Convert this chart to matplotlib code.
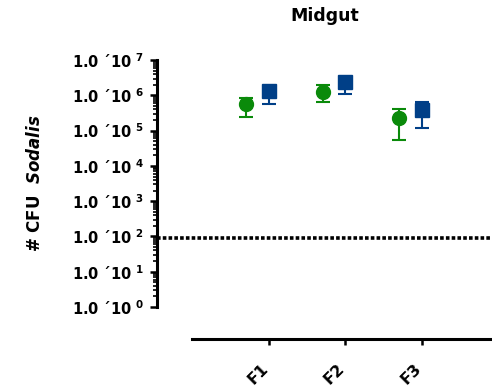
import matplotlib.pyplot as plt
import matplotlib.transforms as mtransforms
import numpy as np

# data
categories = ["F1", "F2", "F3"]
green_mean = [5.6e5, 1.26e6, 2.3e5]
green_low = [2.5e5, 6.5e5, 5.5e4]
green_high = [8.5e5, 1.95e6, 4.2e5]
blue_mean = [1.35e6, 2.35e6, 3.8e5]
blue_low = [5.6e5, 1.1e6, 1.17e5]
blue_high = [1.55e6, 2.6e6, 6.3e5]
detection_limit = 88

plt.rcParams['font.family'] = ['DejaVu Sans']
plt.rcParams['font.weight'] = 'bold'
plt.rcParams['mathtext.fontset'] = 'custom'
plt.rcParams['mathtext.rm'] = 'DejaVu Sans:bold'
plt.rcParams['mathtext.it'] = 'DejaVu Sans:italic:bold'
plt.rcParams['mathtext.bf'] = 'DejaVu Sans:bold'

fig = plt.figure(figsize=(4.92, 3.87), dpi=100)
ax = fig.add_axes([0.319, 0.2067, 0.681, 0.638])

# spines first: set_position resets the ticks
ax.spines['top'].set_visible(False)
ax.spines['right'].set_visible(False)
ax.spines['left'].set_linewidth(2.2)
ax.spines['bottom'].set_linewidth(2.2)
ax.spines['bottom'].set_position(('outward', 23))

x = np.arange(1, len(categories) + 1)
gm = np.array(green_mean)
bm = np.array(blue_mean)
gerr = [gm - np.array(green_low), np.array(green_high) - gm]
berr = [bm - np.array(blue_low), np.array(blue_high) - bm]

ax.errorbar(x - 0.3, gm, yerr=gerr, fmt='o', color='#0a8a0a', ms=10,
            capsize=5, elinewidth=1.5, capthick=1.5)
ax.errorbar(x, bm, yerr=berr, fmt='s', color='#003f87', ms=10,
            capsize=5, elinewidth=1.5, capthick=1.5)

ax.axhline(detection_limit, color='black', lw=2.6, ls=(0, (1, 0.6)))

ax.set_yscale('log')
ax.set_ylim(1, 1e7)
ax.set_xlim(-0.464, 3.915)
ax.spines['bottom'].set_bounds(0, 3.915)

ax.tick_params(axis='y', which='major', length=5, width=1.8, pad=4)
ax.tick_params(axis='y', which='minor', length=3, width=1.2)
ax.tick_params(axis='x', length=4, width=1.8, pad=12)

# y ticks like "1.0 ´10^n"
ticks = [10.0 ** k for k in range(8)]
ax.set_yticks(ticks)
ax.set_yticklabels([r"1.0 ´10 $^{%d}$" % k for k in range(8)], fontsize=10.5)
ax.yaxis.set_minor_locator(plt.matplotlib.ticker.LogLocator(base=10, subs=np.arange(2, 10)))
ax.yaxis.set_minor_formatter(plt.NullFormatter())

ax.set_xticks(x)
ax.set_xticklabels(categories, fontsize=11.5, rotation=45, ha='right', va='top',
                   rotation_mode='anchor')
shift = mtransforms.ScaledTranslation(-6 / 72, 0, fig.dpi_scale_trans)
for lbl in ax.get_xticklabels():
    lbl.set_transform(lbl.get_transform() + shift)

ax.set_title('Midgut', fontsize=12.5, fontweight='bold', pad=28)
ax.set_ylabel(r'# CFU  $\it{Sodalis}$', fontsize=12, fontweight='bold', labelpad=20)

fig.savefig('out.png', dpi=100)
